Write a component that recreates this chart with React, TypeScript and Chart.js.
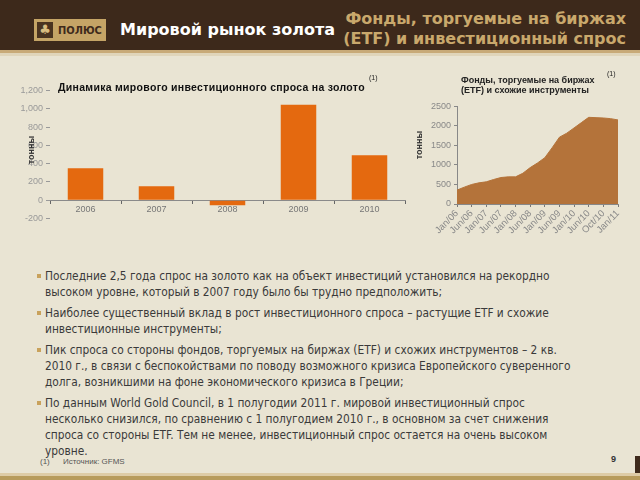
import React, { useEffect, useRef } from "react";
import { Chart, registerables } from "chart.js";

Chart.register(...registerables);

// ---- Data ----
const barYears = ["2006", "2007", "2008", "2009", "2010"];
const barDemand = [351, 152, -53, 1043, 493];
const barYMin = -200;
const barYMax = 1200;
const barYStep = 200;

const etfTickLabels = [
  "Jan/06", "Jun/06", "Jan/07", "Jun/07", "Jan/08", "Jun/08",
  "Jan/09", "Jun/09", "Jan/10", "Jun/10", "Oct/10", "Jan/11",
];
const etfHoldings = [
  356, 432, 500, 542, 568, 627, 678, 695, 695, 788, 932, 1051,
  1186, 1441, 1712, 1814, 1949, 2085, 2220, 2212, 2203, 2186, 2153,
];
const etfYMax = 2500;
const etfYStep = 500;

const bullets = [
  [
    "Последние 2,5 года спрос на золото как на объект инвестиций установился на рекордно",
    "высоком уровне, который в 2007 году было бы трудно предположить;",
  ],
  [
    "Наиболее существенный вклад в рост инвестиционного спроса – растущие ETF и схожие",
    "инвестиционные инструменты;",
  ],
  [
    "Пик спроса со стороны фондов, торгуемых на биржах (ETF) и схожих инструментов – 2 кв.",
    "2010 г., в связи с беспокойствами по поводу возможного кризиса Европейского суверенного",
    "долга, возникшими на фоне экономического кризиса в Греции;",
  ],
  [
    "По данным World Gold Council, в 1 полугодии 2011 г. мировой инвестиционный спрос",
    "несколько снизился, по сравнению с 1 полугодием 2010 г., в основном за счет снижения",
    "спроса со стороны ETF. Тем не менее, инвестиционный спрос остается на очень высоком",
    "уровне.",
  ],
];

const tickFont = { family: "Liberation Sans, Arial, sans-serif", size: 9 };

function BarChart() {
  const ref = useRef<HTMLCanvasElement>(null);
  useEffect(() => {
    if (!ref.current) return;
    const chart = new Chart(ref.current, {
      type: "bar",
      data: {
        labels: barYears,
        datasets: [
          {
            data: barDemand,
            backgroundColor: "#e4690f",
            barPercentage: 0.5,
            categoryPercentage: 1,
          },
        ],
      },
      options: {
        animation: false,
        responsive: false,
        layout: { padding: { top: 7, right: 5, bottom: 6, left: 0 } },
        plugins: { legend: { display: false }, tooltip: { enabled: false } },
        scales: {
          x: {
            position: { y: 0 } as any,
            grid: { offset: true, drawOnChartArea: false, tickLength: 3, color: "#666" },
            border: { color: "#8a8a8a" },
            ticks: { color: "#777", font: tickFont, padding: 1 },
          },
          y: {
            min: barYMin,
            max: barYMax,
            ticks: {
              stepSize: barYStep,
              color: "#999",
              font: tickFont,
              padding: 3,
              callback: (v: any) => Number(v).toLocaleString("en-US"),
            },
            grid: { drawOnChartArea: false, tickLength: 4, color: "#999" },
            border: { display: false },
            afterFit: (s: any) => {
              s.width = 40;
            },
          },
        },
      },
    });
    return () => chart.destroy();
  }, []);
  return <canvas ref={ref} width={400} height={145} />;
}

function AreaChart() {
  const ref = useRef<HTMLCanvasElement>(null);
  useEffect(() => {
    if (!ref.current) return;
    const labels: string[] = [];
    etfTickLabels.forEach((l, i) => {
      labels.push(l);
      if (i < etfTickLabels.length - 1) labels.push("");
    });
    const chart = new Chart(ref.current, {
      type: "line",
      data: {
        labels,
        datasets: [
          {
            data: etfHoldings,
            fill: "origin",
            backgroundColor: "#b4733a",
            borderColor: "#b4733a",
            borderWidth: 1,
            pointRadius: 0,
            tension: 0,
          },
        ],
      },
      options: {
        animation: false,
        responsive: false,
        layout: { padding: { top: 8, right: 19, bottom: 1, left: 0 } },
        plugins: { legend: { display: false }, tooltip: { enabled: false } },
        scales: {
          x: {
            offset: false,
            grid: { drawOnChartArea: false, tickLength: 3, color: "#777" },
            border: { color: "#888" },
            ticks: {
              autoSkip: false,
              maxRotation: 45,
              minRotation: 45,
              color: "#888",
              font: { family: "Liberation Sans, Arial, sans-serif", size: 9.5 },
              padding: 1,
              callback: function (this: any, v: any) {
                const l = this.getLabelForValue(v);
                return l === "" ? null : l;
              },
            },
            afterFit: (s: any) => {
              s.height = 33;
            },
          },
          y: {
            min: 0,
            max: etfYMax,
            ticks: {
              stepSize: etfYStep,
              color: "#888",
              font: tickFont,
              padding: 3,
              callback: (v: any) => String(v),
            },
            grid: { drawOnChartArea: false, tickLength: 3, color: "#888" },
            border: { color: "#888" },
            afterFit: (s: any) => {
              s.width = 45;
            },
          },
        },
      },
    });
    return () => chart.destroy();
  }, []);
  return <canvas ref={ref} width={225} height={140} />;
}

const abs = (s: React.CSSProperties): React.CSSProperties => ({ position: "absolute", ...s });

export default function App() {
  const sans = "DejaVu Sans, Verdana, sans-serif";
  const cond = "DejaVu Sans Condensed, DejaVu Sans, sans-serif";
  const arial = "Liberation Sans, Arial, sans-serif";
  return (
    <div
      style={{
        position: "fixed",
        left: 0,
        top: 0,
        width: 640,
        height: 480,
        overflow: "hidden",
        background: "#e9e4d3",
        fontFamily: sans,
      }}
    >
      {/* Header */}
      <div style={abs({ left: 0, top: 0, width: 640, height: 50, background: "#3d291b" })} />
      <div style={abs({ left: 0, top: 50, width: 640, height: 3, background: "#c8aa78" })} />
      <div style={abs({ left: 0, top: 53, width: 640, height: 3, background: "#e0d5ba" })} />
      {/* Logo */}
      <div
        style={abs({
          left: 34,
          top: 19,
          width: 72,
          height: 22,
          background: "#c5a466",
          display: "flex",
          alignItems: "center",
        })}
      >
        <div
          style={{
            width: 16,
            height: 16,
            marginLeft: 3,
            background: "#4a3320",
            color: "#d9bd80",
            fontSize: 13,
            lineHeight: "16px",
            textAlign: "center",
          }}
        >
          ♣
        </div>
        <div
          style={{
            marginLeft: 5,
            color: "#3e2a1b",
            fontFamily: cond,
            fontWeight: "bold",
            fontSize: 11,
          }}
        >
          ПОЛЮС
        </div>
      </div>
      <div
        style={abs({
          left: 120,
          top: 20,
          color: "#ffffff",
          fontWeight: "bold",
          fontSize: 16,
          whiteSpace: "nowrap",
          fontFamily: sans,
        })}
      >
        Мировой рынок золота
      </div>
      <div
        style={abs({
          right: 14,
          top: 9,
          color: "#c9a86c",
          fontWeight: "bold",
          fontSize: 16,
          lineHeight: "20px",
          textAlign: "right",
          whiteSpace: "nowrap",
          fontFamily: sans,
        })}
      >
        Фонды, торгуемые на биржах
        <br />
        (ETF) и инвестиционный спрос
      </div>

      {/* Bar chart */}
      <div style={abs({ left: 10, top: 82 })}>
        <BarChart />
      </div>
      <div
        style={abs({
          left: 58,
          top: 81,
          fontFamily: arial,
          fontWeight: "bold",
          fontSize: 10.5,
          color: "#111",
          whiteSpace: "nowrap",
          letterSpacing: 0.3,
        })}
      >
        Динамика мирового инвестиционного спроса на золото
      </div>
      <div style={abs({ left: 369, top: 74, fontFamily: arial, fontSize: 7, color: "#222" })}>(1)</div>
      <div
        style={abs({
          left: 16,
          top: 145,
          width: 30,
          textAlign: "center",
          transform: "rotate(-90deg)",
          fontFamily: arial,
          fontWeight: "bold",
          fontSize: 9,
          color: "#333",
        })}
      >
        тонны
      </div>

      {/* Area chart */}
      <div style={abs({ left: 412, top: 98 })}>
        <AreaChart />
      </div>
      <div
        style={abs({
          left: 461,
          top: 75,
          fontFamily: arial,
          fontWeight: "bold",
          fontSize: 9,
          lineHeight: "10px",
          color: "#222",
          whiteSpace: "nowrap",
        })}
      >
        Фонды, торгуемые на биржах
        <br />
        (ETF) и схожие инструменты
      </div>
      <div style={abs({ left: 607, top: 70, fontFamily: arial, fontSize: 7, color: "#222" })}>(1)</div>
      <div
        style={abs({
          left: 404,
          top: 140,
          width: 30,
          textAlign: "center",
          transform: "rotate(-90deg)",
          fontFamily: arial,
          fontWeight: "bold",
          fontSize: 9,
          color: "#333",
        })}
      >
        тонны
      </div>

      {/* Bullets */}
      <div style={abs({ left: 45, top: 268, fontFamily: cond, fontSize: 11.8, lineHeight: "16px", color: "#3a3a3a" })}>
        {bullets.map((lines, i) => (
          <div key={i} style={{ position: "relative", marginBottom: 5 }}>
            <div
              style={abs({ left: -8, top: 6, width: 4, height: 4, background: "#c9a25c" })}
            />
            {lines.map((l, j) => (
              <div key={j} style={{ whiteSpace: "nowrap" }}>
                {l}
              </div>
            ))}
          </div>
        ))}
      </div>

      {/* Footer */}
      <div style={abs({ left: 40, top: 457, fontFamily: arial, fontSize: 8, color: "#555" })}>(1)</div>
      <div style={abs({ left: 63, top: 457, fontFamily: arial, fontSize: 8, color: "#555" })}>Источник: GFMS</div>
      <div style={abs({ left: 611, top: 454, fontFamily: arial, fontWeight: "bold", fontSize: 9, color: "#333" })}>9</div>
      <div style={abs({ left: 635, top: 456, width: 5, height: 18, background: "#3e2a1b" })} />
      <div style={abs({ left: 0, top: 473, width: 640, height: 3, background: "#ddcba6" })} />
      <div style={abs({ left: 0, top: 476, width: 640, height: 4, background: "#b79b5c" })} />
    </div>
  );
}
